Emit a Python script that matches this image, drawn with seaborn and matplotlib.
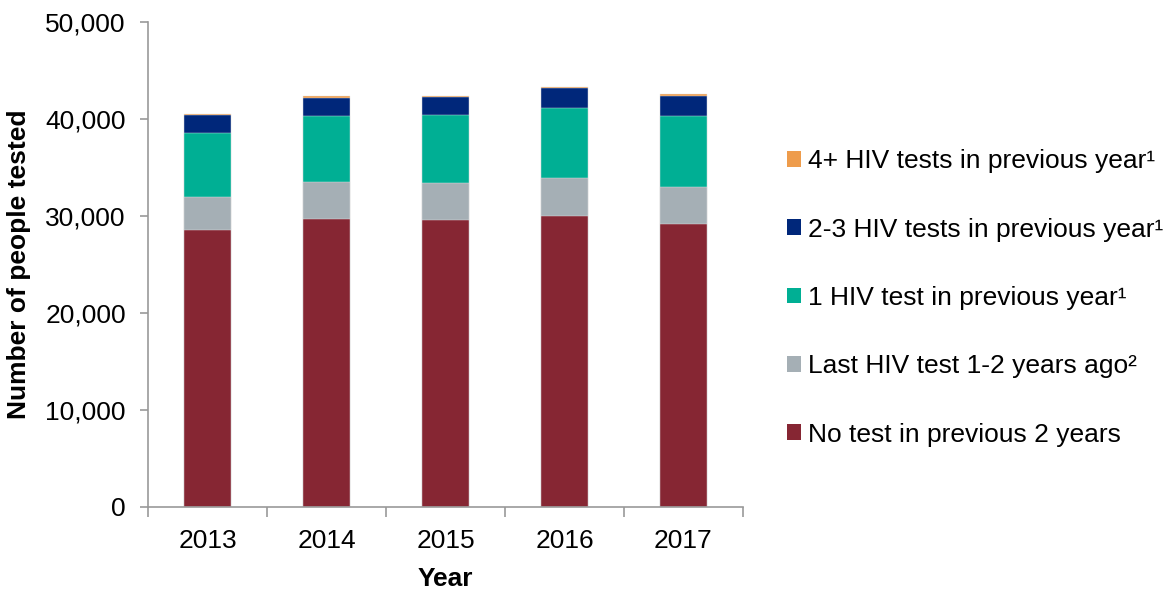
import numpy as np
import pandas as pd
import matplotlib
matplotlib.use("Agg")
import matplotlib.pyplot as plt
from matplotlib.patches import Patch
from matplotlib.ticker import FuncFormatter, FixedLocator
import seaborn as sns

years = ["2013", "2014", "2015", "2016", "2017"]

# bottom to top
no_test = [28600, 29650, 29550, 30050, 29200]
last_1_2 = [3400, 3850, 3900, 3850, 3800]
one_test = [6600, 6800, 6950, 7200, 7300]
two_three = [1800, 1900, 1850, 2050, 2100]
four_plus = [100, 150, 120, 130, 130]

labels = ["No test in previous 2 years",
          "Last HIV test 1-2 years ago\u00b2",
          "1 HIV test in previous year\u00b9",
          "2-3 HIV tests in previous year\u00b9",
          "4+ HIV tests in previous year\u00b9"]
colors = ["#862633", "#A5AFB5", "#00AF94", "#00277A", "#EE9C4C"]

sns.set_style("white")
plt.rcParams['font.family'] = ['Liberation Sans', 'DejaVu Sans']
plt.rcParams['text.color'] = 'black'
plt.rcParams['axes.labelcolor'] = 'black'
plt.rcParams['xtick.color'] = 'black'
plt.rcParams['ytick.color'] = 'black'

series = [no_test, last_1_2, one_test, two_three, four_plus]
cum = np.cumsum(np.array(series), axis=0)
df = pd.DataFrame({"Year": years})
for lab, c in zip(labels, cum):
    df[lab] = c

fig = plt.figure(figsize=(11.68, 5.90), dpi=100)
ax = fig.add_axes([0.1267, 0.1407, 0.5094, 0.822])

# draw tallest (cumulative) first so lower layers sit on top
for lab, col in reversed(list(zip(labels, colors))):
    sns.barplot(data=df, x="Year", y=lab, color=col, width=0.4,
                edgecolor="#E6E6E6", linewidth=0.3, ax=ax, saturation=1)

ax.set_xlim(-0.5, 4.5)
ax.set_ylim(0, 50000)
ax.set_yticks(np.arange(0, 50001, 10000))
ax.yaxis.set_major_formatter(FuncFormatter(lambda v, p: f"{int(v):,}"))

for s in ["top", "right"]:
    ax.spines[s].set_visible(False)
for s in ["left", "bottom"]:
    ax.spines[s].set_color("#999999")
    ax.spines[s].set_linewidth(1.2)

ax.xaxis.set_minor_locator(FixedLocator(np.arange(-0.5, 5, 1)))
ax.tick_params(axis="x", which="major", length=0, labelsize=19, pad=16,
               bottom=True)
ax.tick_params(axis="x", which="minor", length=7, width=1.2, color="#999999",
               direction="out", bottom=True)
ax.tick_params(axis="y", which="major", length=6, width=1.2, color="#999999",
               labelcolor="black", direction="out", left=True, labelsize=19,
               pad=10)

ax.set_xlabel("Year", fontsize=19, fontweight="bold", labelpad=10)
ax.set_ylabel("Number of people tested", fontsize=19, fontweight="bold",
              labelpad=10)

handles = [Patch(facecolor=c, edgecolor="none") for c in colors]
fig.legend(handles[::-1], labels[::-1], loc="upper left",
           bbox_to_anchor=(0.6645, 0.765), frameon=False, fontsize=19,
           handlelength=0.55, handleheight=0.55, handletextpad=0.25,
           labelspacing=1.68, borderaxespad=0)

fig.savefig("out.png", dpi=100)
